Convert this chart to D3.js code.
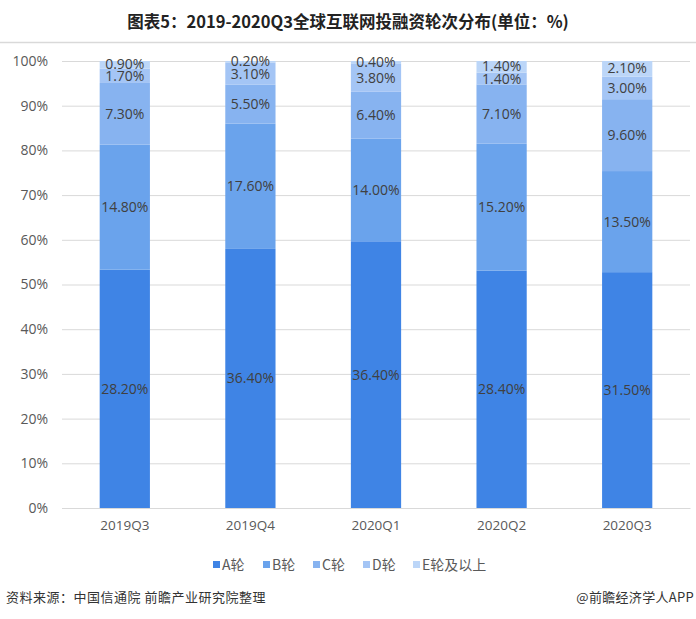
<!DOCTYPE html>
<html><head><meta charset="utf-8">
<script src="https://cdn.jsdelivr.net/npm/d3@7/dist/d3.min.js"></script>
<style>body{margin:0;background:#fff}svg{display:block}</style>
</head><body>
<svg id="c" width="696" height="619"></svg>
<script>
const categories = ["2019Q3","2019Q4","2020Q1","2020Q2","2020Q3"];
const seriesNames = ["A轮","B轮","C轮","D轮","E轮及以上"];
const seriesA = [28.2, 36.4, 36.4, 28.4, 31.5];
const seriesB = [14.8, 17.6, 14.0, 15.2, 13.5];
const seriesC = [7.3, 5.5, 6.4, 7.1, 9.6];
const seriesD = [1.7, 3.1, 3.8, 1.4, 3.0];
const seriesE = [0.9, 0.2, 0.4, 1.4, 2.1];
const yTicks = [0,10,20,30,40,50,60,70,80,90,100];
const colors = ["#3f84e5","#6aa3ec","#87b3f0","#a4c5f5","#bcd6f8"];

const svg = d3.select("#c");
const W = 696, H = 619;
const m = {left:62, right:6, top:61, bottom:111};
const x = d3.scaleBand().domain(categories).range([m.left, W-m.right]).paddingInner(0.6).paddingOuter(0.3);
const y = d3.scaleLinear().domain([0,1]).range([508, 61]);

svg.append("text").attr("x",348).attr("y",28).attr("text-anchor","middle")
  .attr("font-family","'Noto Sans CJK SC'").attr("font-weight","bold").attr("font-size",16.5).attr("fill","#222")
  .text("图表5：2019-2020Q3全球互联网投融资轮次分布(单位：%)");
svg.append("line").attr("x1",0).attr("x2",W).attr("y1",42.5).attr("y2",42.5).attr("stroke","#d9d9d9").attr("stroke-width",1.5);

const yAxis = d3.axisLeft(y).tickValues(yTicks.map(d=>d/100)).tickFormat(d=>Math.round(d*100)+"%").tickSize(-(W-m.right-m.left)).tickPadding(14);
const ga = svg.append("g").attr("transform",`translate(${m.left},0)`).call(yAxis);
ga.select(".domain").remove();
ga.selectAll(".tick line").attr("stroke","#d9d9d9");
ga.selectAll(".tick text").attr("font-family","'Open Sans', 'Noto Sans'").attr("font-size",14).attr("fill","#595959");

const rows = categories.map((c,i)=>({cat:c, A:seriesA[i],B:seriesB[i],C:seriesC[i],D:seriesD[i],E:seriesE[i]}));
const keys = ["A","B","C","D","E"];
const stack = d3.stack().keys(keys).offset(d3.stackOffsetExpand);
const stacked = stack(rows);

stacked.forEach((s,si)=>{
  const g = svg.append("g");
  g.selectAll("rect").data(s).enter().append("rect")
    .attr("x",d=>x(d.data.cat)).attr("width",x.bandwidth())
    .attr("y",d=>y(d[1])).attr("height",d=>y(d[0])-y(d[1]))
    .attr("fill",colors[si]);
});
stacked.forEach((s,si)=>{
  svg.append("g").selectAll("text").data(s).enter().append("text")
    .attr("x",d=>x(d.data.cat)+x.bandwidth()/2)
    .attr("y",d=>(y(d[0])+y(d[1]))/2 + (s.key==="E" ? -1 : (s.key==="D" ? 0.5 : 0)))
    .attr("dy","0.36em").attr("text-anchor","middle")
    .attr("font-family","'Open Sans', 'Noto Sans'").attr("font-size",14).attr("fill","#404040")
    .text(d=>d.data[s.key].toFixed(2)+"%");
});

const xAxis = d3.axisBottom(x).tickSize(0).tickPadding(12);
const gx = svg.append("g").attr("transform","translate(0,508)").call(xAxis);
gx.select(".domain").attr("stroke","#d9d9d9");
gx.selectAll(".tick text").attr("font-family","'Open Sans', 'Noto Sans'").attr("font-size",13.5).attr("fill","#595959");

const lx = [213,263,313,363,413];
const lg = svg.append("g");
seriesNames.forEach((n,i)=>{
  lg.append("rect").attr("x",lx[i]).attr("y",561).attr("width",7).attr("height",7).attr("fill",colors[i]);
  lg.append("text").attr("x",lx[i]+9).attr("y",570).attr("font-family","'Noto Sans CJK SC'").attr("font-size",14).attr("fill","#595959").text(n);
});

svg.append("text").attr("x",6).attr("y",602).attr("font-family","'Noto Sans CJK SC'").attr("font-size",13).attr("letter-spacing",0.5).attr("fill","#333").text("资料来源：中国信通院 前瞻产业研究院整理");
svg.append("text").attr("x",694).attr("y",602).attr("text-anchor","end").attr("font-family","'Noto Sans CJK SC'").attr("font-size",13).attr("letter-spacing",0.3).attr("fill","#333").text("@前瞻经济学人APP");
</script>
</body></html>
